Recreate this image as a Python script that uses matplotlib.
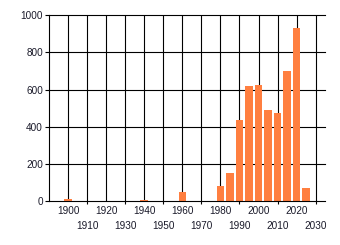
import matplotlib
matplotlib.use("Agg")
import matplotlib.pyplot as plt
from matplotlib.ticker import FixedLocator

years = [1900, 1940, 1960, 1980, 1985, 1990, 1995, 2000, 2005, 2010, 2015, 2020, 2025]
counts = [10, 8, 50, 82, 152, 436, 619, 624, 490, 474, 699, 930, 71]
even_ticks = [1900, 1920, 1940, 1960, 1980, 2000, 2020]
odd_ticks = [1910, 1930, 1950, 1970, 1990, 2010, 2030]
y_ticks = [0, 200, 400, 600, 800, 1000]

plt.rcParams['font.family'] = ['Liberation Sans', 'DejaVu Sans']
fig = plt.figure(figsize=(3.4, 2.45), dpi=100)
ax = fig.add_axes([49.3/340, 1-201.3/245, (324.7-49.3)/340, (201.3-15)/245])

ax.bar(years, counts, width=4.1, color='#FF7F40', zorder=3)

ax.set_xlim(1890, 2034.8)
ax.set_ylim(0, 1000)

ax.xaxis.set_major_locator(FixedLocator(even_ticks))
ax.xaxis.set_minor_locator(FixedLocator(odd_ticks))
ax.set_xticklabels([str(t) for t in even_ticks])
ax.set_xticklabels([str(t) for t in odd_ticks], minor=True)
ax.tick_params(axis='x', which='major', length=0, pad=3.2, labelsize=7.2, labelcolor='#1a1a2a')
ax.tick_params(axis='x', which='minor', length=2, width=0.8, pad=12.0, labelsize=7.2, labelcolor='#1a1a2a')

ax.set_yticks(y_ticks)
ax.tick_params(axis='y', length=3, width=0.8, pad=1.5, labelsize=7.2, labelcolor='#1a1a2a')

for t in even_ticks + odd_ticks:
    ax.axvline(t, color='black', lw=0.8, zorder=1)
for v in y_ticks[1:]:
    ax.axhline(v, color='black', lw=0.8, zorder=1, clip_on=False)

for s in ['top', 'right']:
    ax.spines[s].set_visible(False)
ax.spines['left'].set_linewidth(0.8)
ax.spines['bottom'].set_linewidth(0.8)
ax.spines['bottom'].set_zorder(4)

fig.savefig('out.png', dpi=100)
